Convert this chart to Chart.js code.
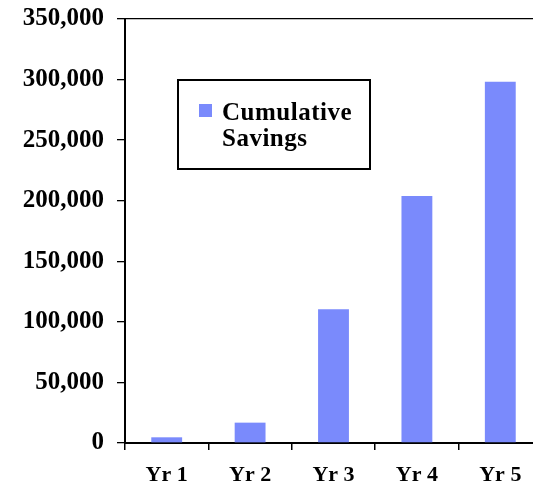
<!DOCTYPE html>
<html>
<head>
<meta charset="utf-8">
<title>Cumulative Savings</title>
<script src="https://cdn.jsdelivr.net/npm/chart.js@4/dist/chart.umd.min.js"></script>
<style>
    html, body { margin: 0; padding: 0; background: #ffffff; overflow: hidden; }
    #wrap { position: absolute; left: 0; top: 0; width: 542px; height: 484px; }
</style>
</head>
<body>
<div id="wrap"><canvas id="chartSavings"></canvas></div>
<script>
// --- dados ---
const categories = ['Yr 1', 'Yr 2', 'Yr 3', 'Yr 4', 'Yr 5'];
const cumulativeSavings = [4700, 16800, 110500, 203900, 298200];
const legendLines = ['Cumulative', 'Savings'];
const yMin = 0;
const yMax = 350000;
const yStep = 50000;

const barColor = '#7a8afc';
const fontFamily = '"Liberation Serif", "Times New Roman", serif';

// Legenda em caixa dentro da área do gráfico
const boxedLegend = {
    id: 'boxedLegend',
    afterDatasetsDraw(chart, args, opts) {
        const ctx = chart.ctx;
        const area = chart.chartArea;
        const x = area.left + opts.offsetX;
        const y = area.top + opts.offsetY;

        ctx.save();
        ctx.fillStyle = '#ffffff';
        ctx.fillRect(x, y, opts.width, opts.height);
        ctx.strokeStyle = '#000000';
        ctx.lineWidth = 2;
        ctx.strokeRect(x, y, opts.width, opts.height);

        ctx.fillStyle = chart.data.datasets[0].backgroundColor;
        ctx.fillRect(x + 21, y + 24, 13, 13);

        ctx.fillStyle = '#000000';
        ctx.font = 'bold 25px ' + fontFamily;
        ctx.letterSpacing = '0.5px';
        ctx.textBaseline = 'alphabetic';
        ctx.textAlign = 'left';
        legendLines.forEach((line, i) => {
            ctx.fillText(line, x + 44, y + 40 + i * 26);
        });
        ctx.restore();
    }
};

new Chart(document.getElementById('chartSavings').getContext('2d'), {
    type: 'bar',
    data: {
        labels: categories,
        datasets: [{
            label: legendLines.join(' '),
            data: cumulativeSavings,
            backgroundColor: barColor,
            borderWidth: 0,
            barPercentage: 0.37,
            categoryPercentage: 1.0
        }]
    },
    options: {
        responsive: true,
        maintainAspectRatio: false,
        animation: false,
        layout: { padding: { top: 19, left: 0, right: 0, bottom: 0 } },
        plugins: {
            legend: { display: false },
            tooltip: { enabled: false },
            boxedLegend: { offsetX: 53, offsetY: 61, width: 192, height: 89 }
        },
        scales: {
            x: {
                grid: {
                    offset: true,
                    drawOnChartArea: false,
                    color: '#000000',
                    tickColor: '#000000',
                    tickLength: 7,
                    lineWidth: 1.5
                },
                border: { color: '#000000', width: 2 },
                ticks: {
                    color: '#000000',
                    padding: 12,
                    font: { family: fontFamily, size: 22, weight: 'bold' }
                },
                afterFit(scale) { scale.height = 41; }
            },
            y: {
                min: yMin,
                max: yMax,
                grid: {
                    drawOnChartArea: true,
                    color: (c) => (c.tick && c.tick.value === yMax ? '#000000' : 'rgba(0,0,0,0)'),
                    tickColor: '#000000',
                    tickLength: 8,
                    lineWidth: 1.3
                },
                border: { color: '#000000', width: 2 },
                ticks: {
                    stepSize: yStep,
                    color: '#000000',
                    padding: 13,
                    font: { family: fontFamily, size: 25, weight: 'bold' },
                    callback: (v) => v.toLocaleString('en-US')
                },
                afterFit(scale) {
                    scale.width = 125;
                    scale.paddingTop = 0;
                    scale.paddingBottom = 0;
                }
            }
        }
    },
    plugins: [boxedLegend]
});
</script>
</body>
</html>
